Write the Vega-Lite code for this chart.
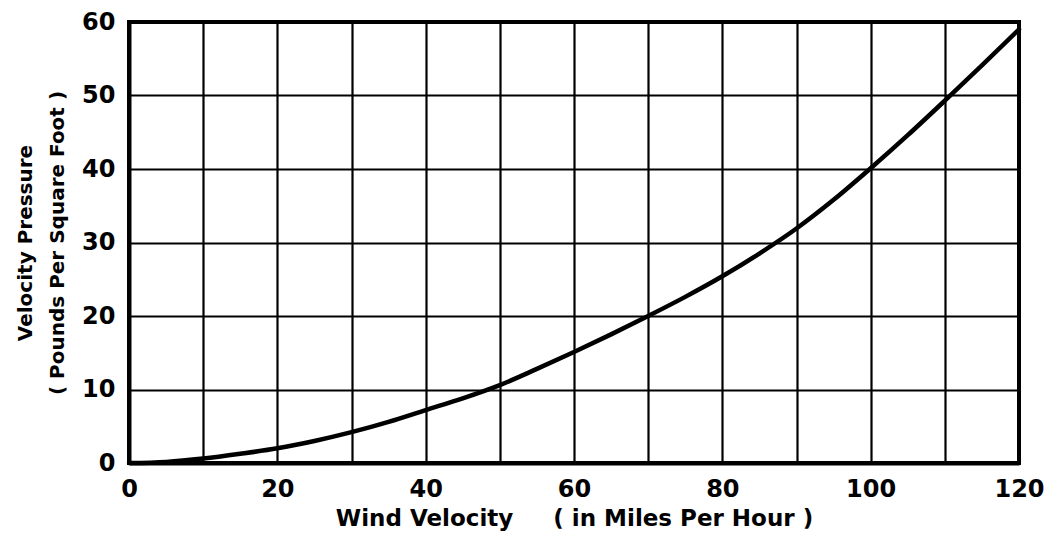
{
  "$schema": "https://vega.github.io/schema/vega-lite/v6.json",
  "width": 890,
  "height": 441,
  "autosize": "none",
  "padding": {"left": 129, "top": 22, "right": 27, "bottom": 76},
  "background": "white",
  "config": {
    "view": {"stroke": "black", "strokeWidth": 4},
    "font": "DejaVu Sans"
  },
  "data": {
    "values": [
      {"v": 0, "p": 0}, {"v": 5, "p": 0.15}, {"v": 10, "p": 0.6}, {"v": 15, "p": 1.25},
      {"v": 20, "p": 2.0}, {"v": 25, "p": 3.0}, {"v": 30, "p": 4.2}, {"v": 35, "p": 5.6},
      {"v": 40, "p": 7.2}, {"v": 45, "p": 8.8}, {"v": 50, "p": 10.6}, {"v": 55, "p": 12.8},
      {"v": 60, "p": 15.1}, {"v": 65, "p": 17.5}, {"v": 70, "p": 20.0}, {"v": 75, "p": 22.6},
      {"v": 80, "p": 25.4}, {"v": 85, "p": 28.5}, {"v": 90, "p": 31.9}, {"v": 95, "p": 35.8},
      {"v": 100, "p": 40.1}, {"v": 105, "p": 44.6}, {"v": 110, "p": 49.3}, {"v": 115, "p": 54.1},
      {"v": 120, "p": 59.0}
    ]
  },
  "mark": {"type": "line", "color": "black", "strokeWidth": 4.5, "interpolate": "monotone", "strokeCap": "round"},
  "encoding": {
    "x": {
      "field": "v", "type": "quantitative",
      "scale": {"domain": [0, 120], "nice": false, "zero": true},
      "axis": {
        "values": [0, 10, 20, 30, 40, 50, 60, 70, 80, 90, 100, 110, 120],
        "labelExpr": "datum.value % 20 == 0 ? datum.label : ''",
        "grid": true, "gridColor": "black", "gridWidth": 2.2, "gridOpacity": 1,
        "ticks": false, "domain": true, "domainColor": "black", "domainWidth": 4,
        "labelFont": "DejaVu Sans", "labelFontWeight": "bold", "labelFontSize": 24, "labelColor": "black",
        "labelPadding": 14, "labelFlush": false,
        "title": "Wind Velocity\u00a0\u00a0\u00a0\u00a0\u00a0( in Miles Per Hour )",
        "titleFont": "DejaVu Sans", "titleFontWeight": "bold", "titleFontSize": 23, "titleColor": "black",
        "titlePadding": 6
      }
    },
    "y": {
      "field": "p", "type": "quantitative",
      "scale": {"domain": [0, 60], "nice": false},
      "axis": {
        "values": [0, 10, 20, 30, 40, 50, 60],
        "grid": true, "gridColor": "black", "gridWidth": 2.2, "gridOpacity": 1,
        "ticks": false, "domain": true, "domainColor": "black", "domainWidth": 4,
        "labelFont": "DejaVu Sans", "labelFontWeight": "bold", "labelFontSize": 24, "labelColor": "black",
        "labelPadding": 14, "labelFlush": false,
        "title": ["Velocity Pressure", "( Pounds Per Square Foot )"],
        "titleFont": "DejaVu Sans", "titleFontWeight": "bold", "titleFontSize": 20, "titleColor": "black",
        "titleLineHeight": 32, "titlePadding": 14
      }
    }
  }
}
